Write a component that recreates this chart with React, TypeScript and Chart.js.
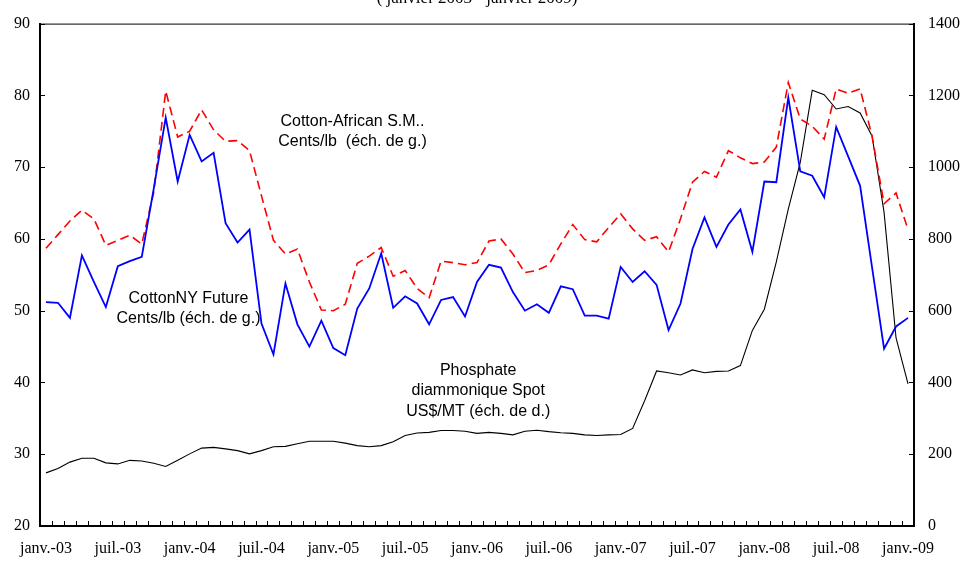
import React, { useEffect, useRef } from "react";
import { Chart, registerables } from "chart.js";

Chart.register(...registerables);

const monthNames = ["janv.", "févr.", "mars", "avr.", "mai", "juin", "juil.", "août", "sept.", "oct.", "nov.", "déc."];
const years = ["03", "04", "05", "06", "07", "08", "09"];
const categories: string[] = [];
years.forEach((y) => monthNames.forEach((m) => categories.push(m + "-" + y)));
categories.splice(73);

const cottonNY = [
  51.2, 51.1, 49.0, 57.7, 54.0, 50.5, 56.2, 56.9, 57.5, 67.0, 76.9, 68.0,
  74.5, 70.8, 72.0, 62.2, 59.5, 61.3, 48.2, 43.9, 53.8, 48.1, 45.0, 48.6,
  44.8, 43.8, 50.3, 53.1, 58.0, 50.4, 52.0, 51.0, 48.1, 51.5, 51.9, 49.2,
  54.0, 56.4, 56.0, 52.6, 50.0, 50.9, 49.7, 53.4, 53.0, 49.3, 49.3, 48.9,
  56.1, 54.0, 55.5, 53.6, 47.3, 51.0, 58.6, 63.0, 58.9, 62.0, 64.1, 58.2,
  68.0, 67.9, 79.7, 69.4, 68.8, 65.8, 75.6, 71.5, 67.4, 56.0, 44.7, 47.8,
  49.0,
];

const cottonAfrican = [
  58.7, 60.6, 62.5, 64.0, 62.8, 59.1, 59.8, 60.5, 59.3, 66.5, 80.6, 74.2,
  75.0, 78.0, 75.2, 73.6, 73.7, 72.3, 66.0, 59.8, 57.9, 58.6, 54.0, 50.1,
  50.0, 50.9, 56.6, 57.6, 58.8, 54.8, 55.6, 53.1, 51.8, 56.9, 56.7, 56.4,
  56.7, 59.7, 60.0, 57.9, 55.3, 55.6, 56.4, 59.3, 62.0, 59.9, 59.6, 61.6,
  63.5, 61.4, 59.8, 60.3, 58.2, 62.8, 67.9, 69.4, 68.6, 72.3, 71.3, 70.5,
  70.7, 72.8, 81.8, 76.7, 75.7, 73.9, 80.9, 80.3, 80.9, 74.3, 64.9, 66.4,
  61.3,
];

const phosphate = [
  148, 160, 178, 189, 189, 176, 173, 183, 181, 175, 166, 183,
  201, 217, 219, 215, 210, 201, 210, 221, 222, 229, 236, 236,
  236, 231, 224, 221, 224, 235, 252, 259, 261, 266, 266, 264,
  258, 261, 258, 254, 264, 267, 263, 260, 258, 254, 252, 254,
  255, 272, 349, 432, 427, 421, 435, 427, 431, 432, 447, 545,
  604, 736, 883, 1013, 1214, 1202, 1162, 1169, 1151, 1086, 874, 524,
  396,
];

const leftTicks = { min: 20, max: 90, step: 10 };
const rightTicks = { min: 0, max: 1400, step: 200 };

const titleText = "( janvier 2003 - janvier 2009)";

// annotation texts anchored in data coordinates (category index, left-axis value)
const annotations = [
  { lines: ["Cotton-African S.M..", "Cents/lb  (éch. de g.)"], idx: 25.6, vals: [76.4, 73.5] },
  { lines: ["CottonNY Future", "Cents/lb (éch. de g.)"], idx: 11.9, vals: [51.7, 48.9] },
  { lines: ["Phosphate", "diammonique Spot", "US$/MT (éch. de d.)"], idx: 36.1, vals: [41.6, 38.8, 35.9] },
];

const decorPlugin = {
  id: "decor",
  afterDraw(chart: any) {
    const ctx = chart.ctx;
    const { left, right, top, bottom } = chart.chartArea;
    const x = chart.scales.x;
    const y = chart.scales.y;
    const y1 = chart.scales.y1;
    ctx.save();
    ctx.strokeStyle = "#000";
    ctx.lineWidth = 1;
    // top border
    ctx.beginPath();
    ctx.moveTo(left, top + 0.5);
    ctx.lineTo(right, top + 0.5);
    ctx.stroke();
    // x ticks at category boundaries
    const step = x.getPixelForValue(1) - x.getPixelForValue(0);
    ctx.beginPath();
    for (let i = 0; i <= categories.length; i++) {
      const px = Math.round(x.getPixelForValue(0) + (i - 0.5) * step) + 0.5;
      ctx.moveTo(px, bottom);
      ctx.lineTo(px, bottom - 5);
    }
    // y ticks inside
    y.ticks.forEach((t: any) => {
      const py = Math.round(y.getPixelForValue(t.value)) + 0.5;
      ctx.moveTo(left, py);
      ctx.lineTo(left + 5, py);
    });
    y1.ticks.forEach((t: any) => {
      const py = Math.round(y1.getPixelForValue(t.value)) + 0.5;
      ctx.moveTo(right, py);
      ctx.lineTo(right - 5, py);
    });
    ctx.stroke();

    // annotations
    ctx.fillStyle = "#000";
    ctx.textAlign = "center";
    ctx.textBaseline = "middle";
    ctx.font = "16px 'Liberation Sans', Arial, sans-serif";
    annotations.forEach((a) => {
      const cx = x.getPixelForValue(0) + a.idx * step;
      a.lines.forEach((ln, k) => {
        ctx.fillText(ln, cx, y.getPixelForValue(a.vals[k]));
      });
    });

    // title (cut at top)
    ctx.textBaseline = "alphabetic";
    ctx.font = "17px 'Liberation Serif', 'Times New Roman', serif";
    ctx.fillText(titleText, (left + right) / 2, 3);
    ctx.restore();
  },
};

export default function App() {
  const ref = useRef<HTMLCanvasElement>(null);
  useEffect(() => {
    if (!ref.current) return;
    const tickFont = { family: "'Liberation Serif', 'Times New Roman', serif", size: 16 };
    const chart = new Chart(ref.current, {
      type: "line",
      data: {
        labels: categories,
        datasets: [
          {
            label: "CottonNY Future",
            data: cottonNY,
            borderColor: "#0000FF",
            borderWidth: 1.8,
            pointRadius: 0,
            tension: 0,
            yAxisID: "y",
          },
          {
            label: "Cotton-African S.M.",
            data: cottonAfrican,
            borderColor: "#FF0000",
            borderWidth: 1.6,
            borderDash: [9, 5],
            pointRadius: 0,
            tension: 0,
            yAxisID: "y",
          },
          {
            label: "Phosphate diammonique Spot",
            data: phosphate,
            borderColor: "#000000",
            borderWidth: 1.1,
            pointRadius: 0,
            tension: 0,
            yAxisID: "y1",
          },
        ],
      },
      options: {
        responsive: false,
        devicePixelRatio: 1,
        animation: false,
        layout: { padding: { top: 20, left: 0, right: 0, bottom: 0 } },
        plugins: { legend: { display: false }, tooltip: { enabled: false }, title: { display: false } },
        scales: {
          x: {
            offset: true,
            grid: { display: false, drawTicks: false },
            border: { display: true, color: "#000", width: 2 },
            ticks: {
              autoSkip: false,
              maxRotation: 0,
              minRotation: 0,
              padding: 13,
              color: "#000",
              font: tickFont,
              callback: (_v: any, i: number) => (i % 6 === 0 ? categories[i] : ""),
            },
            afterFit: (s: any) => {
              s.height = 35;
            },
          },
          y: {
            position: "left",
            min: leftTicks.min,
            max: leftTicks.max,
            grid: { display: false, drawTicks: false },
            border: { display: true, color: "#000", width: 2 },
            ticks: { stepSize: leftTicks.step, padding: 10, color: "#000", font: tickFont, callback: (v: any) => String(v) },
            afterFit: (s: any) => {
              s.width = 40;
            },
          },
          y1: {
            position: "right",
            min: rightTicks.min,
            max: rightTicks.max,
            grid: { display: false, drawTicks: false },
            border: { display: true, color: "#000", width: 2 },
            ticks: { stepSize: rightTicks.step, padding: 14, color: "#000", font: tickFont, callback: (v: any) => String(v) },
            afterFit: (s: any) => {
              s.width = 48;
            },
          },
        },
      },
      plugins: [decorPlugin],
    });
    return () => chart.destroy();
  }, []);
  return (
    <div style={{ position: "absolute", left: 0, top: 0, width: 962, height: 561, background: "#fff" }}>
      <canvas ref={ref} width={962} height={561} style={{ display: "block" }} />
    </div>
  );
}
